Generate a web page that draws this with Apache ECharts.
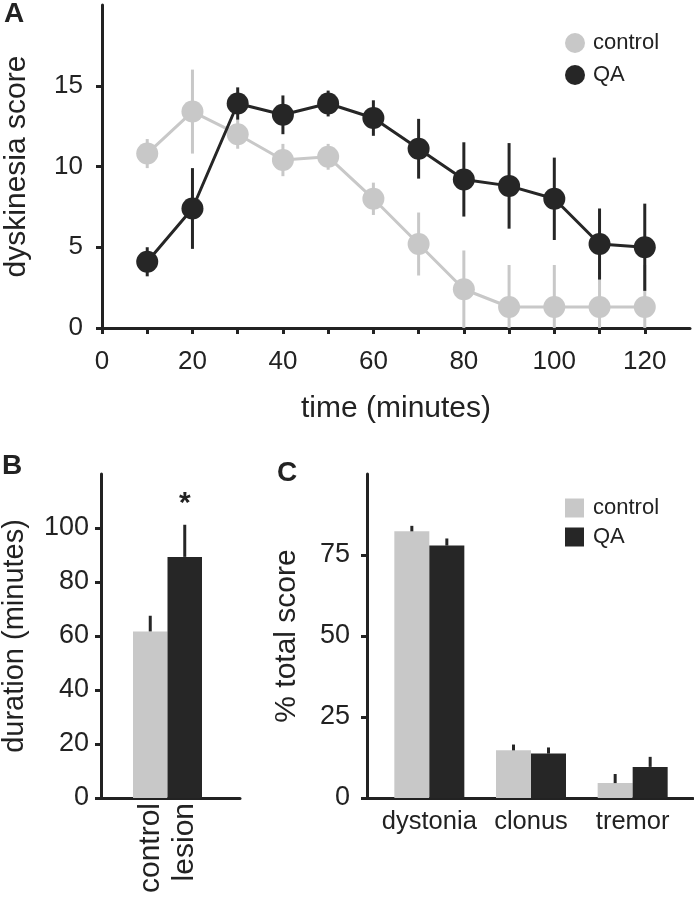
<!DOCTYPE html>
<html><head><meta charset="utf-8">
<script src="https://cdn.jsdelivr.net/npm/echarts@6/dist/echarts.min.js"></script>
<style>html,body{margin:0;padding:0;background:#fff}#c{width:694px;height:900px}</style>
</head><body><div id="c"></div>
<script>
// ---- Panel A data ----
const timeMin = [10, 20, 30, 40, 50, 60, 70, 80, 90, 100, 110, 120];
const controlScore = [10.8, 13.4, 12.0, 10.4, 10.6, 8.0, 5.2, 2.4, 1.3, 1.3, 1.3, 1.3];
const controlErr   = [0.9, 2.6, 0.9, 1.0, 0.8, 1.0, 1.95, 2.4, 2.6, 2.6, 2.2, 2.6];
const qaScore = [4.1, 7.4, 13.9, 13.2, 13.9, 13.0, 11.1, 9.2, 8.8, 8.0, 5.2, 5.0];
const qaErr   = [0.9, 2.5, 1.0, 1.2, 0.8, 1.1, 1.85, 2.3, 2.65, 2.55, 2.2, 2.7];
const scoreTicks = [0, 5, 10, 15];
const timeTicks = [0, 10, 20, 30, 40, 50, 60, 70, 80, 90, 100, 110, 120];
const timeLabels = [0, 20, 40, 60, 80, 100, 120];

// ---- Panel B data ----
const durCats = ['control', 'lesion'];
const durMean = [61.7, 89.3];
const durErr = [5.8, 11.9];
const durSig = ['', '*'];
const durTicks = [0, 20, 40, 60, 80, 100];

// ---- Panel C data ----
const typeCats = ['dystonia', 'clonus', 'tremor'];
const ctrlPct = [82.3, 14.7, 4.6];
const ctrlPctErr = [1.7, 1.8, 2.8];
const qaPct = [77.9, 13.7, 9.6];
const qaPctErr = [2.2, 1.9, 3.1];
const pctTicks = [0, 25, 50, 75];

// ---- styles ----
const GRAY = '#c8c8c8';
const DARK = '#262626';
const INK = '#222';
const FONT = '"Liberation Sans", Arial, Helvetica, sans-serif';
const durColors = [GRAY, DARK];

const chart = echarts.init(document.getElementById('c'), null, {renderer: 'canvas'});

const axLine = {show: true, lineStyle: {color: INK, width: 3}};
const tick = (vals) => ({show: true, inside: false, length: 6, lineStyle: {color: INK, width: 3}, customValues: vals});
const lab = (vals, margin, size) => ({show: true, customValues: vals, margin: margin, fontSize: size, color: INK, fontFamily: FONT});

function symErr(color) {
  return function (params, api) {
    const x = api.value(0), v = api.value(1), e = api.value(2);
    const p0 = api.coord([x, v - e]);
    const p1 = api.coord([x, v + e]);
    return {type: 'line', shape: {x1: p0[0], y1: p0[1], x2: p1[0], y2: p1[1]},
      style: {stroke: color, lineWidth: 3}};
  };
}
function upErr(offset, sigArr) {
  return function (params, api) {
    const x = api.value(0), v = api.value(1), e = api.value(2);
    const p0 = api.coord([x, v]);
    const p1 = api.coord([x, v + e]);
    const children = [{type: 'line', shape: {x1: p0[0] + offset, y1: p0[1], x2: p1[0] + offset, y2: p1[1]},
      style: {stroke: DARK, lineWidth: 3}}];
    if (sigArr && sigArr[params.dataIndex]) {
      children.push({type: 'text', style: {text: sigArr[params.dataIndex], x: p1[0] + offset, y: p1[1] - 21,
        align: 'center', verticalAlign: 'middle', fontSize: 30, fontWeight: 'bold', fill: INK, fontFamily: FONT}});
    }
    return {type: 'group', children: children};
  };
}

const gridBase = {outerBoundsMode: 'none', containLabel: false};
const catLab = (margin, size, rotate) => ({interval: 0, hideOverlap: false, rotate: rotate || 0, margin: margin,
  fontSize: size, color: INK, fontFamily: FONT});

const option = {
  animation: false,
  backgroundColor: '#fff',
  textStyle: {fontFamily: FONT, color: INK},
  title: [
    {text: 'A', left: 4, top: 0, padding: 0, textStyle: {fontSize: 28, fontWeight: 'bold', color: INK, fontFamily: FONT}},
    {text: 'B', left: 2, top: 452, padding: 0, textStyle: {fontSize: 28, fontWeight: 'bold', color: INK, fontFamily: FONT}},
    {text: 'C', left: 277, top: 459, padding: 0, textStyle: {fontSize: 28, fontWeight: 'bold', color: INK, fontFamily: FONT}}
  ],
  legend: [
    {data: [{name: 'control', icon: 'circle'}, {name: 'QA', icon: 'circle'}], orient: 'vertical',
      left: 565, top: 32, padding: 0, itemWidth: 20, itemHeight: 20, itemGap: 10, selectedMode: false,
      textStyle: {fontSize: 22, color: INK, fontFamily: FONT, padding: [0, 0, 0, 3]}},
    {data: [{name: 'control', icon: 'rect'}, {name: 'QA', icon: 'rect'}], orient: 'vertical',
      left: 565, top: 497, padding: 0, itemWidth: 19, itemHeight: 19, itemGap: 7, selectedMode: false,
      textStyle: {fontSize: 22, color: INK, fontFamily: FONT, padding: [0, 0, 0, 4]}}
  ],
  grid: [
    Object.assign({left: 102, top: 5, width: 588, height: 323}, gridBase),
    Object.assign({left: 101, top: 474, width: 139, height: 324}, gridBase),
    Object.assign({left: 133, top: 474, width: 69, height: 324}, gridBase),
    Object.assign({left: 367, top: 474, width: 326, height: 324}, gridBase),
    Object.assign({left: 378.5, top: 474, width: 305, height: 324}, gridBase)
  ],
  xAxis: [
    {type: 'value', gridIndex: 0, min: 0, max: 130, axisLine: axLine, axisTick: tick(timeTicks),
      axisLabel: lab(timeLabels, 21, 26), splitLine: {show: false},
      name: 'time (minutes)', nameLocation: 'middle', nameGap: 66,
      nameTextStyle: {fontSize: 30, color: INK, fontFamily: FONT}},
    {type: 'value', gridIndex: 1, min: 0, max: 1, axisLine: axLine, axisTick: {show: false},
      axisLabel: {show: false}, splitLine: {show: false}},
    {type: 'category', gridIndex: 2, data: durCats, axisLine: {show: false}, axisTick: {show: false},
      axisLabel: catLab(5, 30, 90)},
    {type: 'value', gridIndex: 3, min: 0, max: 1, axisLine: axLine, axisTick: {show: false},
      axisLabel: {show: false}, splitLine: {show: false}},
    {type: 'category', gridIndex: 4, data: typeCats, axisLine: {show: false}, axisTick: {show: false},
      axisLabel: catLab(11, 25.5, 0)}
  ],
  yAxis: [
    {type: 'value', gridIndex: 0, min: 0, max: 20, axisLine: axLine, axisTick: tick(scoreTicks),
      axisLabel: lab(scoreTicks, 19, 26), splitLine: {show: false},
      name: 'dyskinesia score', nameLocation: 'middle', nameGap: 70,
      nameTextStyle: {fontSize: 30, color: INK, fontFamily: FONT}},
    {type: 'value', gridIndex: 1, min: 0, max: 120, axisLine: axLine, axisTick: tick(durTicks),
      axisLabel: lab(durTicks, 12, 27), splitLine: {show: false},
      name: 'duration (minutes)', nameLocation: 'middle', nameGap: 72,
      nameTextStyle: {fontSize: 29, color: INK, fontFamily: FONT}},
    {type: 'value', gridIndex: 2, min: 0, max: 120, show: false},
    {type: 'value', gridIndex: 3, min: 0, max: 100, axisLine: axLine, axisTick: tick(pctTicks),
      axisLabel: lab(pctTicks, 17, 27), splitLine: {show: false},
      name: '% total score', nameLocation: 'middle', nameGap: 65,
      nameTextStyle: {fontSize: 30, color: INK, fontFamily: FONT}},
    {type: 'value', gridIndex: 4, min: 0, max: 100, show: false}
  ],
  series: [
    {type: 'custom', name: 'control-err', xAxisIndex: 0, yAxisIndex: 0, z: 1, clip: true,
      renderItem: symErr(GRAY), data: timeMin.map((t, i) => [t, controlScore[i], controlErr[i]])},
    {type: 'line', name: 'control', xAxisIndex: 0, yAxisIndex: 0, z: 2,
      data: timeMin.map((t, i) => [t, controlScore[i]]), symbol: 'circle', symbolSize: 22,
      itemStyle: {color: GRAY}, lineStyle: {color: GRAY, width: 3}, emphasis: {disabled: true}},
    {type: 'custom', name: 'QA-err', xAxisIndex: 0, yAxisIndex: 0, z: 3, clip: true,
      renderItem: symErr(DARK), data: timeMin.map((t, i) => [t, qaScore[i], qaErr[i]])},
    {type: 'line', name: 'QA', xAxisIndex: 0, yAxisIndex: 0, z: 4,
      data: timeMin.map((t, i) => [t, qaScore[i]]), symbol: 'circle', symbolSize: 22,
      itemStyle: {color: DARK}, lineStyle: {color: DARK, width: 3}, emphasis: {disabled: true}},

    {type: 'bar', name: 'duration', xAxisIndex: 2, yAxisIndex: 2, barWidth: 34.5,
      data: durMean.map((v, i) => ({value: v, itemStyle: {color: durColors[i]}}))},
    {type: 'custom', name: 'duration-err', xAxisIndex: 2, yAxisIndex: 2, z: 5,
      renderItem: upErr(0, durSig), data: durMean.map((v, i) => [i, v, durErr[i]])},

    {type: 'bar', name: 'control', xAxisIndex: 4, yAxisIndex: 4, barWidth: 35, barGap: '0%',
      itemStyle: {color: GRAY}, data: ctrlPct},
    {type: 'bar', name: 'QA', xAxisIndex: 4, yAxisIndex: 4, barWidth: 35, barGap: '0%',
      itemStyle: {color: DARK}, data: qaPct},
    {type: 'custom', name: 'control-pct-err', xAxisIndex: 4, yAxisIndex: 4, z: 5,
      renderItem: upErr(-17.5), data: ctrlPct.map((v, i) => [i, v, ctrlPctErr[i]])},
    {type: 'custom', name: 'QA-pct-err', xAxisIndex: 4, yAxisIndex: 4, z: 5,
      renderItem: upErr(17.5), data: qaPct.map((v, i) => [i, v, qaPctErr[i]])}
  ]
};
chart.setOption(option);
</script>
</body></html>
